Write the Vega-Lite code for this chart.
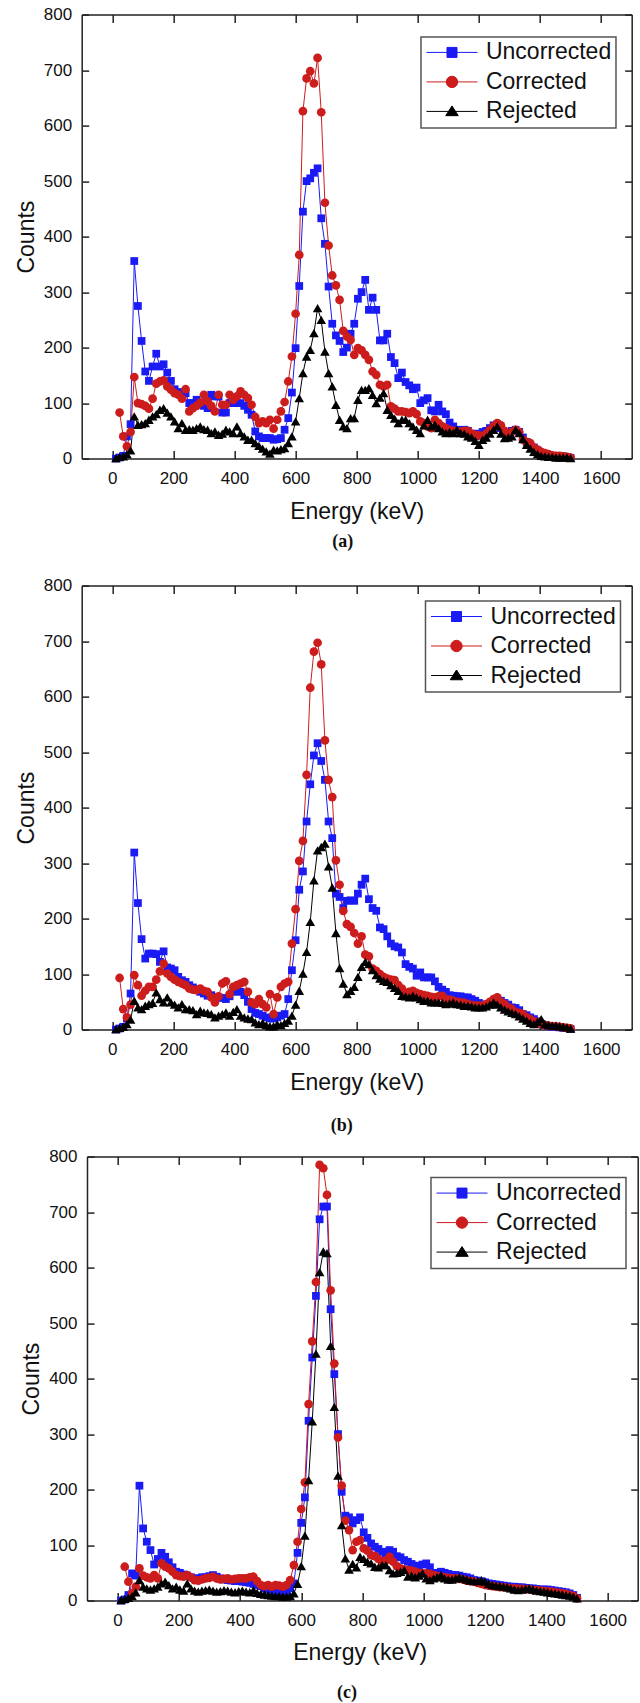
{
"$schema": "https://vega.github.io/schema/vega-lite/v6.json",
"padding": {"left": 14.7, "top": 5.6, "right": 5, "bottom": 5},
"config": {
  "font": "Liberation Sans",
  "view": {"stroke": null},
  "axis": {"grid": false, "labelFont": "Liberation Sans", "labelFontSize": 17, "labelColor": "#111111", "titleFont": "Liberation Sans", "titleFontSize": 23, "titleFontWeight": "normal", "titleColor": "#111111", "domainColor": "#222222", "domainWidth": 1.5, "tickColor": "#222222", "tickWidth": 1.5, "labelFlush": false, "labelOverlap": false, "labelBound": false, "format": "d"},
  "legend": {"title": null, "orient": "none", "symbolSize": 100, "symbolStrokeWidth": 1, "symbolOffset": 15.5, "labelFont": "Liberation Sans", "labelFontSize": 23, "labelColor": "#111111", "labelOffset": 22.5, "labelLimit": 0, "padding": 4, "rowPadding": 5.5}
},
"datasets": {
"a": [
{"E":12,"U":0,"C":null,"R":1},{"E":24,"U":2,"C":83,"R":3},{"E":36,"U":5,"C":40,"R":4},{"E":48,"U":40,"C":22,"R":8},{"E":60,"U":62,"C":48,"R":15},
{"E":72,"U":356,"C":147,"R":76},{"E":84,"U":275,"C":100,"R":61},{"E":96,"U":212,"C":98,"R":62},{"E":108,"U":157,"C":95,"R":64},{"E":120,"U":140,"C":90,"R":70},
{"E":132,"U":166,"C":108,"R":76},{"E":144,"U":189,"C":135,"R":80},{"E":156,"U":166,"C":139,"R":88},{"E":168,"U":170,"C":141,"R":91},{"E":180,"U":155,"C":130,"R":83},
{"E":192,"U":140,"C":124,"R":76},{"E":204,"U":125,"C":118,"R":67},{"E":216,"U":120,"C":115,"R":55},{"E":228,"U":115,"C":108,"R":64},{"E":240,"U":118,"C":125,"R":52},
{"E":252,"U":100,"C":85,"R":53},{"E":264,"U":100,"C":91,"R":52},{"E":276,"U":106,"C":95,"R":55},{"E":288,"U":100,"C":101,"R":58},{"E":300,"U":95,"C":115,"R":53},
{"E":312,"U":91,"C":103,"R":52},{"E":324,"U":115,"C":95,"R":46},{"E":336,"U":112,"C":85,"R":49},{"E":348,"U":112,"C":115,"R":43},{"E":360,"U":83,"C":97,"R":45},
{"E":372,"U":83,"C":97,"R":52},{"E":384,"U":100,"C":115,"R":49},{"E":396,"U":100,"C":106,"R":46},{"E":408,"U":100,"C":112,"R":58},{"E":420,"U":100,"C":121,"R":46},
{"E":432,"U":95,"C":115,"R":40},{"E":444,"U":88,"C":109,"R":34},{"E":456,"U":79,"C":97,"R":34},{"E":468,"U":49,"C":75,"R":28},{"E":480,"U":40,"C":64,"R":23},
{"E":492,"U":37,"C":67,"R":18},{"E":504,"U":37,"C":64,"R":13},{"E":516,"U":37,"C":70,"R":9},{"E":528,"U":34,"C":54,"R":16},{"E":540,"U":35,"C":70,"R":15},
{"E":552,"U":37,"C":85,"R":17},{"E":564,"U":52,"C":102,"R":19},{"E":576,"U":73,"C":139,"R":28},{"E":588,"U":119,"C":184,"R":40},{"E":600,"U":199,"C":261,"R":67},
{"E":612,"U":311,"C":367,"R":109},{"E":624,"U":445,"C":626,"R":154},{"E":636,"U":500,"C":685,"R":184},{"E":648,"U":505,"C":698,"R":196},{"E":660,"U":515,"C":676,"R":226},
{"E":672,"U":523,"C":722,"R":271},{"E":684,"U":433,"C":624,"R":250},{"E":696,"U":387,"C":461,"R":193},{"E":708,"U":310,"C":384,"R":154},{"E":720,"U":243,"C":330,"R":130},
{"E":732,"U":222,"C":312,"R":97},{"E":744,"U":212,"C":286,"R":70},{"E":756,"U":192,"C":230,"R":58},{"E":768,"U":200,"C":220,"R":55},{"E":780,"U":225,"C":214,"R":73},
{"E":792,"U":243,"C":187,"R":73},{"E":804,"U":288,"C":199,"R":106},{"E":816,"U":300,"C":195,"R":124},{"E":828,"U":322,"C":187,"R":124},{"E":840,"U":268,"C":178,"R":127},
{"E":852,"U":290,"C":157,"R":115},{"E":864,"U":268,"C":151,"R":100},{"E":876,"U":213,"C":133,"R":110},{"E":888,"U":213,"C":130,"R":118},{"E":900,"U":225,"C":133,"R":88},
{"E":912,"U":183,"C":94,"R":79},{"E":924,"U":172,"C":90,"R":72},{"E":936,"U":145,"C":85,"R":64},{"E":948,"U":155,"C":85,"R":70},{"E":960,"U":138,"C":84,"R":70},
{"E":972,"U":132,"C":82,"R":64},{"E":984,"U":125,"C":85,"R":58},{"E":996,"U":128,"C":80,"R":52},{"E":1008,"U":100,"C":67,"R":46},{"E":1020,"U":105,"C":64,"R":60},
{"E":1032,"U":109,"C":58,"R":70},{"E":1044,"U":87,"C":55,"R":58},{"E":1056,"U":85,"C":70,"R":61},{"E":1068,"U":97,"C":64,"R":55},{"E":1080,"U":85,"C":58,"R":49},
{"E":1092,"U":80,"C":55,"R":46},{"E":1104,"U":65,"C":52,"R":48},{"E":1116,"U":58,"C":50,"R":46},{"E":1128,"U":52,"C":49,"R":52},{"E":1140,"U":50,"C":48,"R":46},
{"E":1152,"U":52,"C":50,"R":45},{"E":1164,"U":50,"C":50,"R":40},{"E":1176,"U":45,"C":45,"R":38},{"E":1188,"U":40,"C":43,"R":32},{"E":1200,"U":45,"C":42,"R":25},
{"E":1212,"U":48,"C":40,"R":34},{"E":1224,"U":50,"C":45,"R":38},{"E":1236,"U":55,"C":52,"R":45},{"E":1248,"U":60,"C":58,"R":52},{"E":1260,"U":62,"C":64,"R":58},
{"E":1272,"U":55,"C":60,"R":45},{"E":1284,"U":48,"C":50,"R":37},{"E":1296,"U":45,"C":45,"R":38},{"E":1308,"U":50,"C":48,"R":40},{"E":1320,"U":52,"C":52,"R":52},
{"E":1332,"U":48,"C":48,"R":46},{"E":1344,"U":38,"C":34,"R":35},{"E":1356,"U":30,"C":30,"R":25},{"E":1368,"U":25,"C":28,"R":18},{"E":1380,"U":20,"C":20,"R":12},
{"E":1392,"U":15,"C":16,"R":8},{"E":1404,"U":8,"C":12,"R":5},{"E":1416,"U":6,"C":10,"R":4},{"E":1428,"U":6,"C":8,"R":3},{"E":1440,"U":5,"C":6,"R":3},
{"E":1452,"U":5,"C":5,"R":2},{"E":1464,"U":4,"C":5,"R":2},{"E":1476,"U":4,"C":4,"R":2},{"E":1488,"U":3,"C":3,"R":2},{"E":1500,"U":1,"C":2,"R":1}
],
"b": [
{"E":12,"U":0,"C":null,"R":1},{"E":24,"U":2,"C":93,"R":3},{"E":36,"U":5,"C":37,"R":5},{"E":48,"U":20,"C":22,"R":10},{"E":60,"U":65,"C":45,"R":18},
{"E":72,"U":319,"C":98,"R":52},{"E":84,"U":228,"C":80,"R":40},{"E":96,"U":163,"C":61,"R":37},{"E":108,"U":128,"C":70,"R":43},{"E":120,"U":137,"C":77,"R":46},
{"E":132,"U":137,"C":77,"R":48},{"E":144,"U":136,"C":90,"R":67},{"E":156,"U":122,"C":105,"R":55},{"E":168,"U":141,"C":119,"R":49},{"E":180,"U":112,"C":101,"R":58},
{"E":192,"U":110,"C":95,"R":49},{"E":204,"U":107,"C":90,"R":45},{"E":216,"U":95,"C":86,"R":40},{"E":228,"U":89,"C":83,"R":46},{"E":240,"U":86,"C":80,"R":37},
{"E":252,"U":80,"C":74,"R":37},{"E":264,"U":76,"C":72,"R":35},{"E":276,"U":72,"C":71,"R":28},{"E":288,"U":68,"C":74,"R":34},{"E":300,"U":65,"C":70,"R":31},
{"E":312,"U":61,"C":68,"R":30},{"E":324,"U":62,"C":58,"R":28},{"E":336,"U":55,"C":49,"R":22},{"E":348,"U":58,"C":60,"R":25},{"E":360,"U":57,"C":83,"R":28},
{"E":372,"U":55,"C":87,"R":31},{"E":384,"U":60,"C":64,"R":25},{"E":396,"U":68,"C":77,"R":32},{"E":408,"U":72,"C":80,"R":37},{"E":420,"U":68,"C":83,"R":25},
{"E":432,"U":62,"C":86,"R":22},{"E":444,"U":50,"C":68,"R":20},{"E":456,"U":37,"C":49,"R":19},{"E":468,"U":30,"C":46,"R":13},{"E":480,"U":28,"C":55,"R":10},
{"E":492,"U":25,"C":46,"R":12},{"E":504,"U":22,"C":40,"R":8},{"E":516,"U":20,"C":64,"R":6},{"E":528,"U":20,"C":28,"R":6},{"E":540,"U":22,"C":58,"R":10},
{"E":552,"U":25,"C":77,"R":8},{"E":564,"U":28,"C":83,"R":12},{"E":576,"U":55,"C":86,"R":16},{"E":588,"U":107,"C":155,"R":25},{"E":600,"U":161,"C":217,"R":45},
{"E":612,"U":252,"C":304,"R":70},{"E":624,"U":285,"C":340,"R":101},{"E":636,"U":375,"C":459,"R":140},{"E":648,"U":442,"C":616,"R":194},{"E":660,"U":494,"C":681,"R":269},
{"E":672,"U":516,"C":697,"R":323},{"E":684,"U":484,"C":658,"R":329},{"E":696,"U":450,"C":521,"R":335},{"E":708,"U":375,"C":450,"R":294},{"E":720,"U":345,"C":419,"R":256},
{"E":732,"U":245,"C":305,"R":174},{"E":744,"U":239,"C":261,"R":111},{"E":756,"U":219,"C":214,"R":83},{"E":768,"U":232,"C":190,"R":64},{"E":780,"U":233,"C":185,"R":70},
{"E":792,"U":232,"C":174,"R":77},{"E":804,"U":245,"C":155,"R":95},{"E":816,"U":261,"C":168,"R":113},{"E":828,"U":272,"C":135,"R":122},{"E":840,"U":235,"C":132,"R":118},
{"E":852,"U":219,"C":110,"R":107},{"E":864,"U":214,"C":106,"R":98},{"E":876,"U":184,"C":100,"R":92},{"E":888,"U":181,"C":95,"R":88},{"E":900,"U":168,"C":92,"R":86},
{"E":912,"U":155,"C":90,"R":80},{"E":924,"U":150,"C":89,"R":75},{"E":936,"U":148,"C":80,"R":70},{"E":948,"U":139,"C":74,"R":61},{"E":960,"U":118,"C":64,"R":60},
{"E":972,"U":113,"C":68,"R":58},{"E":984,"U":110,"C":70,"R":61},{"E":996,"U":97,"C":66,"R":58},{"E":1008,"U":103,"C":64,"R":55},{"E":1020,"U":94,"C":62,"R":52},
{"E":1032,"U":94,"C":61,"R":52},{"E":1044,"U":94,"C":59,"R":49},{"E":1056,"U":87,"C":58,"R":49},{"E":1068,"U":77,"C":60,"R":49},{"E":1080,"U":72,"C":61,"R":48},
{"E":1092,"U":68,"C":55,"R":46},{"E":1104,"U":62,"C":54,"R":47},{"E":1116,"U":61,"C":52,"R":49},{"E":1128,"U":60,"C":50,"R":46},{"E":1140,"U":60,"C":49,"R":45},
{"E":1152,"U":58,"C":48,"R":43},{"E":1164,"U":58,"C":46,"R":43},{"E":1176,"U":55,"C":44,"R":42},{"E":1188,"U":52,"C":43,"R":40},{"E":1200,"U":48,"C":43,"R":40},
{"E":1212,"U":45,"C":43,"R":40},{"E":1224,"U":45,"C":46,"R":42},{"E":1236,"U":45,"C":50,"R":45},{"E":1248,"U":50,"C":55,"R":49},{"E":1260,"U":55,"C":58,"R":45},
{"E":1272,"U":52,"C":50,"R":40},{"E":1284,"U":48,"C":46,"R":36},{"E":1296,"U":45,"C":40,"R":33},{"E":1308,"U":40,"C":37,"R":30},{"E":1320,"U":39,"C":31,"R":28},
{"E":1332,"U":35,"C":30,"R":24},{"E":1344,"U":28,"C":28,"R":20},{"E":1356,"U":26,"C":22,"R":16},{"E":1368,"U":22,"C":19,"R":12},{"E":1380,"U":19,"C":15,"R":10},
{"E":1392,"U":15,"C":13,"R":14},{"E":1404,"U":10,"C":10,"R":19},{"E":1416,"U":8,"C":8,"R":10},{"E":1428,"U":6,"C":7,"R":8},{"E":1440,"U":5,"C":6,"R":7},
{"E":1452,"U":5,"C":6,"R":7},{"E":1464,"U":4,"C":5,"R":6},{"E":1476,"U":3,"C":4,"R":5},{"E":1488,"U":3,"C":3,"R":4},{"E":1500,"U":1,"C":2,"R":2}
],
"c": [
{"E":12,"U":0,"C":null,"R":1},{"E":24,"U":2,"C":61,"R":3},{"E":36,"U":10,"C":34,"R":5},{"E":48,"U":49,"C":13,"R":8},{"E":60,"U":45,"C":25,"R":15},
{"E":72,"U":207,"C":58,"R":37},{"E":84,"U":130,"C":45,"R":25},{"E":96,"U":106,"C":42,"R":22},{"E":108,"U":91,"C":40,"R":20},{"E":120,"U":65,"C":46,"R":22},
{"E":132,"U":75,"C":40,"R":25},{"E":144,"U":86,"C":67,"R":31},{"E":156,"U":79,"C":61,"R":34},{"E":168,"U":69,"C":58,"R":28},{"E":180,"U":60,"C":52,"R":22},
{"E":192,"U":52,"C":46,"R":25},{"E":204,"U":50,"C":44,"R":20},{"E":216,"U":47,"C":43,"R":18},{"E":228,"U":45,"C":46,"R":31},{"E":240,"U":42,"C":42,"R":22},
{"E":252,"U":40,"C":37,"R":18},{"E":264,"U":40,"C":36,"R":16},{"E":276,"U":42,"C":38,"R":18},{"E":288,"U":42,"C":40,"R":19},{"E":300,"U":44,"C":41,"R":20},
{"E":312,"U":46,"C":43,"R":18},{"E":324,"U":43,"C":40,"R":16},{"E":336,"U":40,"C":38,"R":17},{"E":348,"U":38,"C":39,"R":19},{"E":360,"U":37,"C":40,"R":18},
{"E":372,"U":36,"C":38,"R":16},{"E":384,"U":35,"C":39,"R":15},{"E":396,"U":35,"C":40,"R":17},{"E":408,"U":34,"C":40,"R":18},{"E":420,"U":33,"C":40,"R":16},
{"E":432,"U":32,"C":42,"R":15},{"E":444,"U":30,"C":43,"R":19},{"E":456,"U":28,"C":35,"R":14},{"E":468,"U":26,"C":28,"R":12},{"E":480,"U":22,"C":26,"R":11},
{"E":492,"U":20,"C":28,"R":10},{"E":504,"U":18,"C":25,"R":9},{"E":516,"U":16,"C":28,"R":8},{"E":528,"U":15,"C":27,"R":8},{"E":540,"U":15,"C":25,"R":7},
{"E":552,"U":16,"C":28,"R":7},{"E":564,"U":22,"C":37,"R":8},{"E":576,"U":31,"C":64,"R":13},{"E":588,"U":86,"C":106,"R":30},{"E":600,"U":140,"C":165,"R":62},
{"E":612,"U":186,"C":213,"R":117},{"E":624,"U":324,"C":354,"R":217},{"E":636,"U":438,"C":467,"R":323},{"E":648,"U":549,"C":574,"R":445},{"E":660,"U":687,"C":785,"R":592},
{"E":672,"U":710,"C":779,"R":629},{"E":684,"U":710,"C":731,"R":626},{"E":696,"U":525,"C":559,"R":459},{"E":708,"U":408,"C":427,"R":349},{"E":720,"U":300,"C":294,"R":225},
{"E":732,"U":196,"C":207,"R":136},{"E":744,"U":153,"C":144,"R":76},{"E":756,"U":150,"C":127,"R":56},{"E":768,"U":139,"C":91,"R":66},{"E":780,"U":145,"C":106,"R":60},
{"E":792,"U":150,"C":109,"R":79},{"E":804,"U":123,"C":94,"R":75},{"E":816,"U":113,"C":90,"R":70},{"E":828,"U":103,"C":82,"R":67},{"E":840,"U":97,"C":80,"R":61},
{"E":852,"U":93,"C":75,"R":60},{"E":864,"U":88,"C":70,"R":64},{"E":876,"U":85,"C":72,"R":64},{"E":888,"U":91,"C":79,"R":55},{"E":900,"U":88,"C":70,"R":49},
{"E":912,"U":80,"C":62,"R":50},{"E":924,"U":78,"C":58,"R":52},{"E":936,"U":73,"C":56,"R":55},{"E":948,"U":70,"C":55,"R":43},{"E":960,"U":66,"C":54,"R":45},
{"E":972,"U":61,"C":52,"R":42},{"E":984,"U":63,"C":50,"R":45},{"E":996,"U":65,"C":49,"R":49},{"E":1008,"U":67,"C":49,"R":40},{"E":1020,"U":60,"C":48,"R":37},
{"E":1032,"U":49,"C":46,"R":40},{"E":1044,"U":50,"C":44,"R":42},{"E":1056,"U":52,"C":43,"R":46},{"E":1068,"U":50,"C":42,"R":40},{"E":1080,"U":48,"C":41,"R":38},
{"E":1092,"U":46,"C":40,"R":38},{"E":1104,"U":46,"C":40,"R":40},{"E":1116,"U":45,"C":39,"R":42},{"E":1128,"U":43,"C":38,"R":40},{"E":1140,"U":42,"C":36,"R":38},
{"E":1152,"U":40,"C":35,"R":36},{"E":1164,"U":37,"C":34,"R":35},{"E":1176,"U":36,"C":32,"R":35},{"E":1188,"U":35,"C":30,"R":37},{"E":1200,"U":33,"C":28,"R":34},
{"E":1212,"U":31,"C":27,"R":30},{"E":1224,"U":30,"C":26,"R":28},{"E":1236,"U":29,"C":25,"R":27},{"E":1248,"U":28,"C":24,"R":26},{"E":1260,"U":27,"C":24,"R":25},
{"E":1272,"U":26,"C":23,"R":24},{"E":1284,"U":25,"C":22,"R":22},{"E":1296,"U":25,"C":22,"R":20},{"E":1308,"U":24,"C":21,"R":19},{"E":1320,"U":24,"C":21,"R":20},
{"E":1332,"U":23,"C":20,"R":21},{"E":1344,"U":22,"C":20,"R":22},{"E":1356,"U":22,"C":19,"R":20},{"E":1368,"U":21,"C":19,"R":18},{"E":1380,"U":20,"C":18,"R":17},
{"E":1392,"U":20,"C":17,"R":16},{"E":1404,"U":20,"C":16,"R":15},{"E":1416,"U":19,"C":16,"R":14},{"E":1428,"U":18,"C":15,"R":13},{"E":1440,"U":17,"C":14,"R":12},
{"E":1452,"U":16,"C":13,"R":11},{"E":1464,"U":15,"C":12,"R":10},{"E":1476,"U":13,"C":10,"R":9},{"E":1488,"U":10,"C":8,"R":7},{"E":1500,"U":5,"C":4,"R":4}
]
},
"spacing": 127,
"bounds": "flush",
"resolve": {"scale": {"color": "independent"}, "legend": {"color": "independent"}},
"vconcat": [
{
 "width": 550, "height": 444,
 "data": {"name": "a"},
 "transform": [{"fold": ["U", "C", "R"], "as": ["s", "v"]}],
 "title": {"text": "(a)", "orient": "bottom", "anchor": "middle", "font": "Liberation Serif", "fontWeight": "bold", "fontSize": 18, "color": "#111111", "offset": 9.5, "dx": -14},
 "layer": [
  {"mark": {"type": "line", "strokeWidth": 1},
   "encoding": {
    "x": {"field": "E", "type": "quantitative", "scale": {"domain": [-100, 1700], "nice": false, "zero": false}, "axis": {"orient": "bottom", "values": [0,200,400,600,800,1000,1200,1400,1600], "title": "Energy (keV)", "tickSize": -8, "labelPadding": 19.5, "titlePadding": 14}},
    "y": {"field": "v", "type": "quantitative", "scale": {"domain": [0, 800], "nice": false}, "axis": {"orient": "left", "values": [0,100,200,300,400,500,600,700,800], "title": "Counts", "tickSize": -7, "labelPadding": 17, "titlePadding": 5}},
    "color": {"field": "s", "type": "nominal", "scale": {"domain": ["U", "C", "R"], "range": ["#1a1af5", "#cc1c1c", "#000000"]},
     "legend": {"legendX": 339.3, "legendY": 22.3,
      "labelExpr": "datum.value === 'U' ? 'Uncorrected' : datum.value === 'C' ? 'Corrected' : 'Rejected'",
      "encode": {
       "symbols": {"update": {
        "shape": {"signal": "datum.value === 'U' ? 'M-5.1,0H5.1M-1,-1H1V1H-1Z' : datum.value === 'C' ? 'M-5.1,0H5.1M1.14,0A1.14,1.14,0,1,1,-1.14,0A1.14,1.14,0,1,1,1.14,0Z' : 'M-5.1,0H5.1M0,-1.1L1.25,0.85L-1.25,0.85Z'"},
        "fill": {"signal": "datum.value === 'U' ? '#1a1af5' : datum.value === 'C' ? '#cc1c1c' : '#000000'"},
        "stroke": {"signal": "datum.value === 'U' ? '#1a1af5' : datum.value === 'C' ? '#cc1c1c' : '#000000'"},
        "strokeWidth": {"value": 1}, "opacity": {"value": 1}, "fillOpacity": {"value": 1}}},
       "legend": {"update": {"stroke": {"value": "#555555"}, "strokeWidth": {"value": 1.5}, "fill": {"value": "#ffffff"}}}
      }}}
   }},
  {"transform": [{"filter": "datum.s === 'U'"}],
   "mark": {"type": "point", "shape": "square", "filled": true, "size": 60, "opacity": 1, "color": "#1a1af5"},
   "encoding": {
    "x": {"field": "E", "type": "quantitative", "scale": {"domain": [-100, 1700], "nice": false, "zero": false}, "axis": {"orient": "top", "values": [0,200,400,600,800,1000,1200,1400,1600], "labels": false, "title": null, "tickSize": -8}},
    "y": {"field": "v", "type": "quantitative", "scale": {"domain": [0, 800], "nice": false}, "axis": {"orient": "right", "values": [0,100,200,300,400,500,600,700,800], "labels": false, "title": null, "tickSize": -7}}}},
  {"transform": [{"filter": "datum.s === 'C'"}],
   "mark": {"type": "point", "shape": "circle", "filled": true, "size": 76, "opacity": 1, "color": "#cc1c1c"},
   "encoding": {
    "x": {"field": "E", "type": "quantitative", "scale": {"domain": [-100, 1700], "nice": false, "zero": false}, "axis": null},
    "y": {"field": "v", "type": "quantitative", "scale": {"domain": [0, 800], "nice": false}, "axis": null}}},
  {"transform": [{"filter": "datum.s === 'R'"}],
   "mark": {"type": "point", "shape": "triangle-up", "filled": true, "size": 92, "opacity": 1, "color": "#000000"},
   "encoding": {
    "x": {"field": "E", "type": "quantitative", "scale": {"domain": [-100, 1700], "nice": false, "zero": false}, "axis": null},
    "y": {"field": "v", "type": "quantitative", "scale": {"domain": [0, 800], "nice": false}, "axis": null}}}
 ],
 "resolve": {"axis": {"x": "independent", "y": "independent"}}
},
{
 "width": 550, "height": 444,
 "data": {"name": "b"},
 "transform": [{"fold": ["U", "C", "R"], "as": ["s", "v"]}],
 "title": {"text": "(b)", "orient": "bottom", "anchor": "middle", "font": "Liberation Serif", "fontWeight": "bold", "fontSize": 18, "color": "#111111", "offset": 23, "dx": -15},
 "layer": [
  {"mark": {"type": "line", "strokeWidth": 1},
   "encoding": {
    "x": {"field": "E", "type": "quantitative", "scale": {"domain": [-100, 1700], "nice": false, "zero": false}, "axis": {"orient": "bottom", "values": [0,200,400,600,800,1000,1200,1400,1600], "title": "Energy (keV)", "tickSize": -8, "labelPadding": 19.5, "titlePadding": 14}},
    "y": {"field": "v", "type": "quantitative", "scale": {"domain": [0, 800], "nice": false}, "axis": {"orient": "left", "values": [0,100,200,300,400,500,600,700,800], "title": "Counts", "tickSize": -7, "labelPadding": 17, "titlePadding": 5}},
    "color": {"field": "s", "type": "nominal", "scale": {"domain": ["U", "C", "R"], "range": ["#1a1af5", "#cc1c1c", "#000000"]},
     "legend": {"legendX": 343.8, "legendY": 15.4,
      "labelExpr": "datum.value === 'U' ? 'Uncorrected' : datum.value === 'C' ? 'Corrected' : 'Rejected'",
      "encode": {
       "symbols": {"update": {
        "shape": {"signal": "datum.value === 'U' ? 'M-5.1,0H5.1M-1,-1H1V1H-1Z' : datum.value === 'C' ? 'M-5.1,0H5.1M1.14,0A1.14,1.14,0,1,1,-1.14,0A1.14,1.14,0,1,1,1.14,0Z' : 'M-5.1,0H5.1M0,-1.1L1.25,0.85L-1.25,0.85Z'"},
        "fill": {"signal": "datum.value === 'U' ? '#1a1af5' : datum.value === 'C' ? '#cc1c1c' : '#000000'"},
        "stroke": {"signal": "datum.value === 'U' ? '#1a1af5' : datum.value === 'C' ? '#cc1c1c' : '#000000'"},
        "strokeWidth": {"value": 1}, "opacity": {"value": 1}, "fillOpacity": {"value": 1}}},
       "legend": {"update": {"stroke": {"value": "#555555"}, "strokeWidth": {"value": 1.5}, "fill": {"value": "#ffffff"}}}
      }}}
   }},
  {"transform": [{"filter": "datum.s === 'U'"}],
   "mark": {"type": "point", "shape": "square", "filled": true, "size": 60, "opacity": 1, "color": "#1a1af5"},
   "encoding": {
    "x": {"field": "E", "type": "quantitative", "scale": {"domain": [-100, 1700], "nice": false, "zero": false}, "axis": {"orient": "top", "values": [0,200,400,600,800,1000,1200,1400,1600], "labels": false, "title": null, "tickSize": -8}},
    "y": {"field": "v", "type": "quantitative", "scale": {"domain": [0, 800], "nice": false}, "axis": {"orient": "right", "values": [0,100,200,300,400,500,600,700,800], "labels": false, "title": null, "tickSize": -7}}}},
  {"transform": [{"filter": "datum.s === 'C'"}],
   "mark": {"type": "point", "shape": "circle", "filled": true, "size": 76, "opacity": 1, "color": "#cc1c1c"},
   "encoding": {
    "x": {"field": "E", "type": "quantitative", "scale": {"domain": [-100, 1700], "nice": false, "zero": false}, "axis": null},
    "y": {"field": "v", "type": "quantitative", "scale": {"domain": [0, 800], "nice": false}, "axis": null}}},
  {"transform": [{"filter": "datum.s === 'R'"}],
   "mark": {"type": "point", "shape": "triangle-up", "filled": true, "size": 92, "opacity": 1, "color": "#000000"},
   "encoding": {
    "x": {"field": "E", "type": "quantitative", "scale": {"domain": [-100, 1700], "nice": false, "zero": false}, "axis": null},
    "y": {"field": "v", "type": "quantitative", "scale": {"domain": [0, 800], "nice": false}, "axis": null}}}
 ],
 "resolve": {"axis": {"x": "independent", "y": "independent"}}
},
{
 "width": 556, "height": 444,
 "data": {"name": "c"},
 "transform": [{"fold": ["U", "C", "R"], "as": ["s", "v"]}],
 "title": {"text": "(c)", "orient": "bottom", "anchor": "middle", "font": "Liberation Serif", "fontWeight": "bold", "fontSize": 18, "color": "#111111", "offset": 20, "dx": -12.7},
 "layer": [
  {"mark": {"type": "line", "strokeWidth": 1},
   "encoding": {
    "x": {"field": "E", "type": "quantitative", "scale": {"domain": [-116.4, 1698], "nice": false, "zero": false}, "axis": {"orient": "bottom", "values": [0,200,400,600,800,1000,1200,1400,1600], "title": "Energy (keV)", "tickSize": -8, "labelPadding": 19.5, "titlePadding": 13, "domainDash": [0, 5.3, 1000, 0]}},
    "y": {"field": "v", "type": "quantitative", "scale": {"domain": [0, 800], "nice": false}, "axis": {"orient": "left", "values": [0,100,200,300,400,500,600,700,800], "title": "Counts", "tickSize": -7, "labelPadding": 17, "titlePadding": 5, "offset": -5.3}},
    "color": {"field": "s", "type": "nominal", "scale": {"domain": ["U", "C", "R"], "range": ["#1a1af5", "#cc1c1c", "#000000"]},
     "legend": {"legendX": 349.3, "legendY": 21,
      "labelExpr": "datum.value === 'U' ? 'Uncorrected' : datum.value === 'C' ? 'Corrected' : 'Rejected'",
      "encode": {
       "symbols": {"update": {
        "shape": {"signal": "datum.value === 'U' ? 'M-5.1,0H5.1M-1,-1H1V1H-1Z' : datum.value === 'C' ? 'M-5.1,0H5.1M1.14,0A1.14,1.14,0,1,1,-1.14,0A1.14,1.14,0,1,1,1.14,0Z' : 'M-5.1,0H5.1M0,-1.1L1.25,0.85L-1.25,0.85Z'"},
        "fill": {"signal": "datum.value === 'U' ? '#1a1af5' : datum.value === 'C' ? '#cc1c1c' : '#000000'"},
        "stroke": {"signal": "datum.value === 'U' ? '#1a1af5' : datum.value === 'C' ? '#cc1c1c' : '#000000'"},
        "strokeWidth": {"value": 1}, "opacity": {"value": 1}, "fillOpacity": {"value": 1}}},
       "legend": {"update": {"stroke": {"value": "#555555"}, "strokeWidth": {"value": 1.5}, "fill": {"value": "#ffffff"}}}
      }}}
   }},
  {"transform": [{"filter": "datum.s === 'U'"}],
   "mark": {"type": "point", "shape": "square", "filled": true, "size": 60, "opacity": 1, "color": "#1a1af5"},
   "encoding": {
    "x": {"field": "E", "type": "quantitative", "scale": {"domain": [-116.4, 1698], "nice": false, "zero": false}, "axis": {"orient": "top", "values": [0,200,400,600,800,1000,1200,1400,1600], "labels": false, "title": null, "tickSize": -8, "domainDash": [0, 5.3, 1000, 0]}},
    "y": {"field": "v", "type": "quantitative", "scale": {"domain": [0, 800], "nice": false}, "axis": {"orient": "right", "values": [0,100,200,300,400,500,600,700,800], "labels": false, "title": null, "tickSize": -7}}}},
  {"transform": [{"filter": "datum.s === 'C'"}],
   "mark": {"type": "point", "shape": "circle", "filled": true, "size": 76, "opacity": 1, "color": "#cc1c1c"},
   "encoding": {
    "x": {"field": "E", "type": "quantitative", "scale": {"domain": [-116.4, 1698], "nice": false, "zero": false}, "axis": null},
    "y": {"field": "v", "type": "quantitative", "scale": {"domain": [0, 800], "nice": false}, "axis": null}}},
  {"transform": [{"filter": "datum.s === 'R'"}],
   "mark": {"type": "point", "shape": "triangle-up", "filled": true, "size": 92, "opacity": 1, "color": "#000000"},
   "encoding": {
    "x": {"field": "E", "type": "quantitative", "scale": {"domain": [-116.4, 1698], "nice": false, "zero": false}, "axis": null},
    "y": {"field": "v", "type": "quantitative", "scale": {"domain": [0, 800], "nice": false}, "axis": null}}}
 ],
 "resolve": {"axis": {"x": "independent", "y": "independent"}}
}
]
}
